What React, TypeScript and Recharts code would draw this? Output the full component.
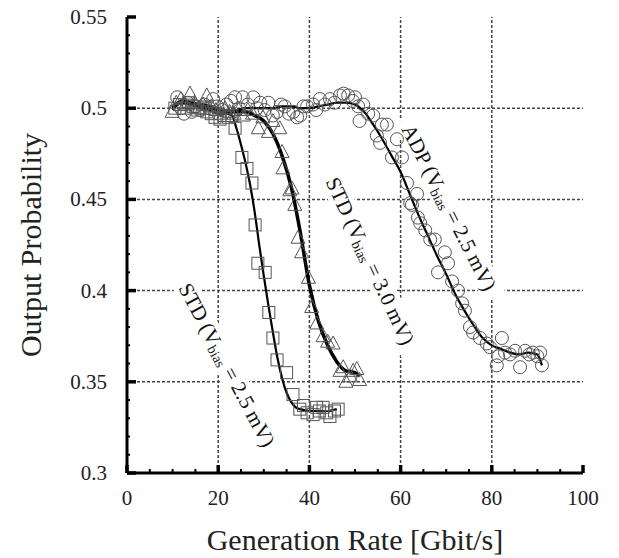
import {
  ComposedChart,
  Line,
  ReferenceDot,
  ReferenceLine,
  Scatter,
  XAxis,
  YAxis,
} from "recharts";

// tick positions
const xTicks = [0, 5, 10, 15, 20, 25, 30, 35, 40, 45, 50, 55, 60, 65, 70, 75, 80, 85, 90, 95, 100];
const xMajor = [0, 20, 40, 60, 80, 100];
const yTicks = [
  0.3, 0.31, 0.32, 0.33, 0.34, 0.35, 0.36, 0.37, 0.38, 0.39, 0.4, 0.41, 0.42,
  0.43, 0.44, 0.45, 0.46, 0.47, 0.48, 0.49, 0.5, 0.51, 0.52, 0.53, 0.54, 0.55,
];
const yMajor = [0.3, 0.35, 0.4, 0.45, 0.5, 0.55];
const xGrid = [20, 40, 60, 80];
const yGrid = [0.35, 0.4, 0.45, 0.5];

// STD (Vbias = 2.5 mV) - squares
const std25Points = [
  [10.5, 0.5], [11.5, 0.502], [12.5, 0.5], [13.5, 0.503], [14.5, 0.501], [15.5, 0.499],
  [16.5, 0.5], [17.5, 0.498], [18.5, 0.497], [19.3, 0.495], [20.4, 0.494], [21.3, 0.496],
  [22.3, 0.495], [23.0, 0.496], [23.7, 0.489], [25.2, 0.473], [26.3, 0.467], [27.4, 0.459],
  [28.1, 0.436], [28.7, 0.415], [30.3, 0.41], [31.1, 0.388], [32.0, 0.374], [32.9, 0.362],
  [35.0, 0.355], [36.4, 0.343], [37.9, 0.335], [38.7, 0.337], [39.5, 0.333], [40.8, 0.332],
  [41.6, 0.336], [42.2, 0.334], [43.0, 0.336], [43.8, 0.333], [44.5, 0.331], [45.5, 0.334],
  [46.3, 0.335],
];
const std25Fit = [
  [10, 0.499], [12, 0.503], [14, 0.502], [16, 0.5], [18, 0.499], [20, 0.497], [22, 0.497],
  [23, 0.496], [24, 0.489], [25, 0.48], [26, 0.47], [27, 0.458], [28, 0.443], [29, 0.425],
  [30, 0.408], [31, 0.392], [32, 0.377], [33, 0.363], [34, 0.352], [35, 0.344], [36, 0.339],
  [37, 0.336], [38, 0.335], [40, 0.334], [42, 0.334], [44, 0.334], [46, 0.335],
];

// STD (Vbias = 3.0 mV) - triangles
const std30Points = [
  [9.9, 0.498], [10.8, 0.503], [11.8, 0.505], [12.8, 0.502], [13.8, 0.508], [14.8, 0.503],
  [15.8, 0.5], [16.7, 0.502], [17.5, 0.507], [18.5, 0.501], [19.5, 0.499], [20.5, 0.497],
  [21.5, 0.5], [22.5, 0.498], [23.5, 0.497], [24.5, 0.499], [25.5, 0.496], [26.5, 0.499],
  [27.5, 0.497], [28.8, 0.489], [29.8, 0.495], [31.0, 0.487], [32.0, 0.493], [33.5, 0.489],
  [34.0, 0.476], [34.2, 0.467], [35.7, 0.455], [36.2, 0.456], [36.8, 0.447], [37.5, 0.429],
  [38.3, 0.421], [39.8, 0.407], [40.5, 0.391], [41.6, 0.382], [43.0, 0.375], [44.0, 0.372],
  [45.2, 0.371], [46.7, 0.356], [47.4, 0.358], [48.0, 0.35], [49.0, 0.353], [49.6, 0.356],
  [50.4, 0.357], [51.0, 0.351],
];
const std30Fit = [
  [10, 0.5], [12, 0.504], [14, 0.503], [16, 0.502], [18, 0.501], [20, 0.499], [22, 0.498],
  [24, 0.498], [26, 0.498], [28, 0.496], [30, 0.493], [32, 0.486], [34, 0.474], [36, 0.457],
  [38, 0.432], [40, 0.403], [42, 0.383], [44, 0.37], [46, 0.361], [48, 0.356], [50, 0.355],
  [51, 0.353],
];

// ADP (Vbias = 2.5 mV) - circles
const adpPoints = [
  [11.0, 0.506], [11.8, 0.5], [12.5, 0.497], [13.3, 0.503], [14.2, 0.498], [15.0, 0.501],
  [16.0, 0.499], [17.0, 0.502], [18.0, 0.5], [18.9, 0.505], [19.8, 0.501], [20.8, 0.499],
  [21.8, 0.502], [22.8, 0.504], [23.7, 0.506], [24.6, 0.5], [25.4, 0.506], [26.5, 0.502],
  [27.7, 0.506], [28.5, 0.5], [29.2, 0.503], [30.2, 0.499], [31.0, 0.503], [32.0, 0.496],
  [32.9, 0.498], [33.8, 0.502], [34.6, 0.501], [35.5, 0.497], [36.5, 0.498], [37.3, 0.495],
  [38.0, 0.496], [38.7, 0.501], [39.5, 0.501], [40.8, 0.502], [41.5, 0.499], [42.3, 0.505],
  [43.4, 0.502], [44.5, 0.505], [45.5, 0.503], [46.7, 0.507], [47.5, 0.508], [48.5, 0.507],
  [49.5, 0.504], [50.0, 0.506], [50.7, 0.501], [51.0, 0.493], [51.8, 0.502], [52.9, 0.497],
  [54.0, 0.496], [54.8, 0.485], [55.5, 0.481], [55.9, 0.491], [57.0, 0.491], [58.1, 0.473],
  [59.2, 0.483], [60.3, 0.473], [61.4, 0.459], [62.1, 0.448], [62.5, 0.447], [63.6, 0.453],
  [63.8, 0.44], [64.3, 0.437], [65.4, 0.433], [66.5, 0.428], [67.5, 0.428], [68.2, 0.41],
  [69.7, 0.421], [70.4, 0.415], [71.3, 0.405], [72.6, 0.4], [73.5, 0.393], [74.1, 0.389],
  [75.2, 0.38], [75.9, 0.377], [77.4, 0.374], [78.9, 0.371], [79.6, 0.369], [81.1, 0.359],
  [81.4, 0.364], [82.2, 0.374], [82.9, 0.366], [84.0, 0.365], [85.1, 0.367], [86.2, 0.358],
  [87.3, 0.367], [88.2, 0.365], [89.0, 0.366], [90.0, 0.364], [90.6, 0.366], [91.0, 0.359],
];
const adpFit = [
  [10, 0.501], [12, 0.503], [14, 0.502], [16, 0.501], [18, 0.5], [20, 0.499], [22, 0.499],
  [24, 0.499], [26, 0.5], [28, 0.5], [30, 0.5], [32, 0.5], [34, 0.501], [36, 0.501],
  [38, 0.5], [40, 0.5], [42, 0.501], [44, 0.502], [46, 0.503], [48, 0.503], [50, 0.502],
  [52, 0.498], [54, 0.491], [56, 0.483], [58, 0.474], [60, 0.465], [62, 0.453], [64, 0.441],
  [66, 0.43], [68, 0.419], [70, 0.409], [72, 0.398], [74, 0.389], [76, 0.381], [78, 0.374],
  [80, 0.37], [82, 0.368], [84, 0.366], [86, 0.365], [88, 0.366], [90, 0.365], [91, 0.359],
];

// rotated curve labels: [x, y, angle, head, tail]
const curveLabels: [number, number, number, string, string][] = [
  [70.6, 0.4455, 63, "ADP (V", " = 2.5 mV)"],
  [53.3, 0.4162, 65, "STD (V", " = 3.0 mV)"],
  [21.9, 0.3592, 62, "STD (V", " = 2.5 mV)"],
];

const toXY = (pts: number[][]) => pts.map(([x, y]) => ({ x, y }));

const FONT = "'Liberation Serif', 'Times New Roman', serif";
const MARK = "#555";

const fmtY = (v: number) => String(Number(v.toFixed(2)));

function BottomTick({ x, y, payload }: any) {
  const major = xMajor.includes(payload.value);
  return (
    <g>
      <line x1={x} x2={x} y1={y} y2={y - (major ? 8 : 4)} stroke="#000" strokeWidth={major ? 3.5 : 2} />
      {major && (
        <text x={x} y={y + 25} textAnchor="middle" dominantBaseline="central" fontSize={21} fontFamily={FONT} fill="#222">
          {payload.value}
        </text>
      )}
    </g>
  );
}

function TopTick({ x, y, payload }: any) {
  if (!xMajor.includes(payload.value)) return <g />;
  return <line x1={x} x2={x} y1={y} y2={y + 8} stroke="#000" strokeWidth={3.5} />;
}

function LeftTick({ x, y, payload }: any) {
  const major = yMajor.some((m) => Math.abs(m - payload.value) < 1e-6);
  return (
    <g>
      <line x1={x} x2={x + (major ? 9 : 3)} y1={y} y2={y} stroke="#000" strokeWidth={major ? 3.5 : 2} />
      {major && (
        <text x={x - 20} y={y} textAnchor="end" dominantBaseline="central" fontSize={21} fontFamily={FONT} fill="#222">
          {fmtY(payload.value)}
        </text>
      )}
    </g>
  );
}

function RightTick({ x, y, payload }: any) {
  const major = yMajor.some((m) => Math.abs(m - payload.value) < 1e-6);
  return <line x1={x} x2={x - (major ? 9 : 3)} y1={y} y2={y} stroke="#000" strokeWidth={major ? 3.5 : 2} />;
}

const circleShape = (p: any) => (
  <circle cx={p.cx} cy={p.cy} r={6.5} fill="none" stroke={MARK} strokeWidth={1} />
);
const squareShape = (p: any) => (
  <rect x={p.cx - 6} y={p.cy - 6} width={12} height={12} fill="none" stroke={MARK} strokeWidth={1} />
);
const triangleShape = (p: any) => (
  <polygon
    points={`${p.cx},${p.cy - 7.5} ${p.cx - 7},${p.cy + 5.5} ${p.cx + 7},${p.cy + 5.5}`}
    fill="none"
    stroke={MARK}
    strokeWidth={1}
  />
);

function CurveLabel({ viewBox, angle, head, tail }: any) {
  const cx = viewBox.x + viewBox.width / 2;
  const cy = viewBox.y + viewBox.height / 2;
  return (
    <g transform={`rotate(${angle} ${cx} ${cy})`}>
      <rect x={cx - 100} y={cy - 12} width={200} height={24} fill="#fff" />
      <text x={cx} y={cy} textAnchor="middle" dominantBaseline="central" fontSize={21} fontFamily={FONT} fill="#111">
        {head}
        <tspan fontSize={14} dy={5}>bias</tspan>
        <tspan dy={-5}>{tail}</tspan>
      </text>
    </g>
  );
}

export default function App() {
  const axisLine = { stroke: "#000", strokeWidth: 3 };
  return (
    <div style={{ position: "absolute", left: 0, top: 0, width: 619, height: 558, background: "#fff" }}>
      <ComposedChart width={619} height={558} margin={{ top: 17, right: 36, bottom: 0, left: 0 }}>
        <XAxis
          xAxisId={0}
          dataKey="x"
          type="number"
          domain={[0, 100]}
          allowDataOverflow
          ticks={xTicks}
          interval={0}
          height={85}
          tickSize={0}
          tickMargin={0}
          tickLine={false}
          axisLine={axisLine}
          tick={BottomTick}
          label={{
            content: ({ viewBox }: any) => (
              <text
                x={viewBox.x + viewBox.width / 2}
                y={viewBox.y + 66}
                textAnchor="middle"
                dominantBaseline="central"
                fontSize={30}
                fontFamily={FONT}
                fill="#222"
              >
                Generation Rate [Gbit/s]
              </text>
            ),
          }}
        />
        <XAxis
          xAxisId="top"
          orientation="top"
          type="number"
          domain={[0, 100]}
          allowDataOverflow
          ticks={xTicks}
          interval={0}
          height={0}
          tickSize={0}
          tickMargin={0}
          tickLine={false}
          axisLine={axisLine}
          tick={TopTick}
        />
        <YAxis
          yAxisId={0}
          dataKey="y"
          type="number"
          domain={[0.3, 0.55]}
          allowDataOverflow
          ticks={yTicks}
          interval={0}
          width={127}
          tickSize={0}
          tickMargin={0}
          tickLine={false}
          axisLine={axisLine}
          tick={LeftTick}
          label={{
            content: ({ viewBox }: any) => {
              const cx = viewBox.x + 30;
              const cy = viewBox.y + viewBox.height / 2;
              return (
                <text
                  x={cx}
                  y={cy}
                  transform={`rotate(-90 ${cx} ${cy})`}
                  textAnchor="middle"
                  dominantBaseline="central"
                  fontSize={30}
                  fontFamily={FONT}
                  fill="#222"
                >
                  Output Probability
                </text>
              );
            },
          }}
        />
        <YAxis
          yAxisId="right"
          orientation="right"
          type="number"
          domain={[0.3, 0.55]}
          allowDataOverflow
          ticks={yTicks}
          interval={0}
          width={0}
          tickSize={0}
          tickMargin={0}
          tickLine={false}
          axisLine={axisLine}
          tick={RightTick}
        />

        {xGrid.map((v) => (
          <ReferenceLine key={`gx${v}`} x={v} stroke="#444" strokeWidth={1.5} strokeDasharray="3 2" />
        ))}
        {yGrid.map((v) => (
          <ReferenceLine key={`gy${v}`} y={v} stroke="#444" strokeWidth={1.5} strokeDasharray="3 2" />
        ))}

        {curveLabels.map(([x, y, angle, head, tail], i) => (
          <ReferenceDot
            key={`lab${i}`}
            x={x}
            y={y}
            r={0}
            fill="none"
            stroke="none"
            label={{ content: (p: any) => <CurveLabel viewBox={p.viewBox} angle={angle} head={head} tail={tail} /> }}
          />
        ))}

        <Scatter data={toXY(adpPoints)} dataKey="y" shape={circleShape} isAnimationActive={false} />
        <Scatter data={toXY(std30Points)} dataKey="y" shape={triangleShape} isAnimationActive={false} />
        <Scatter data={toXY(std25Points)} dataKey="y" shape={squareShape} isAnimationActive={false} />

        <Line data={toXY(adpFit)} dataKey="y" type="monotone" stroke="#000" strokeWidth={2.2} dot={false} activeDot={false} isAnimationActive={false} />
        <Line data={toXY(std30Fit)} dataKey="y" type="monotone" stroke="#000" strokeWidth={3.5} dot={false} activeDot={false} isAnimationActive={false} />
        <Line data={toXY(std25Fit)} dataKey="y" type="monotone" stroke="#000" strokeWidth={2.2} dot={false} activeDot={false} isAnimationActive={false} />
      </ComposedChart>
    </div>
  );
}
